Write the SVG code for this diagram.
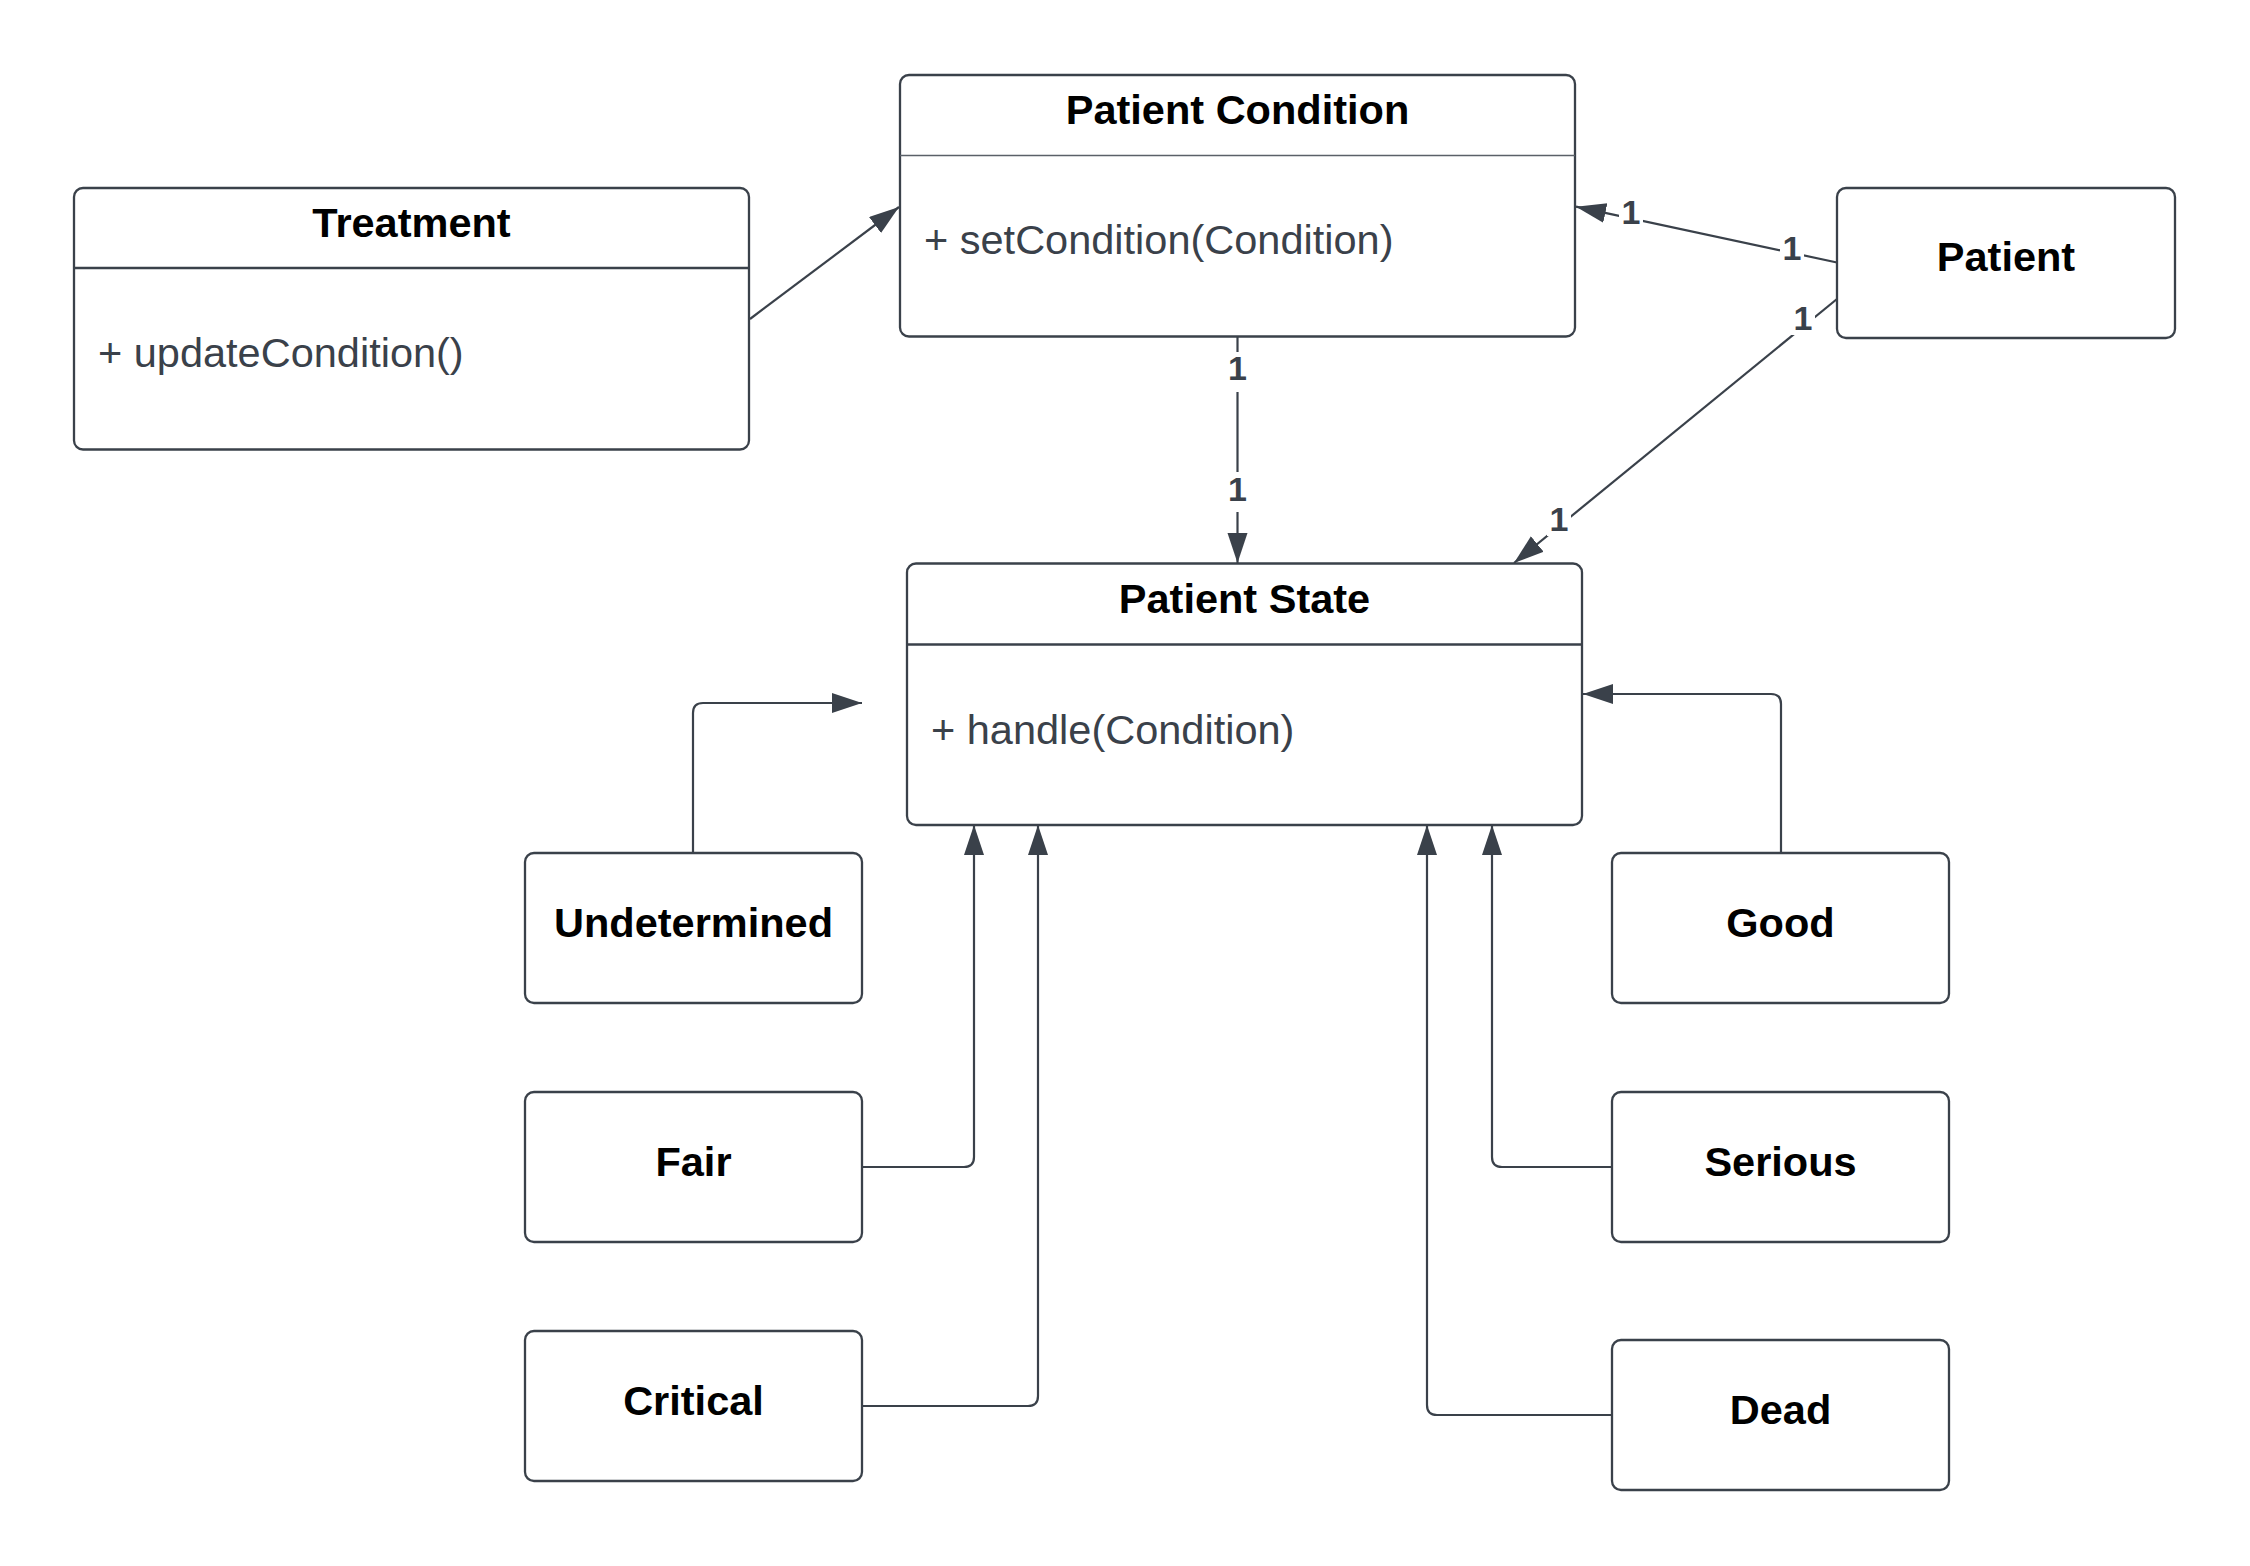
<svg xmlns="http://www.w3.org/2000/svg" width="2250" height="1566" viewBox="0 0 2250 1566">
<style>
.box{fill:#ffffff;stroke:#3a414a;stroke-width:2.3}
.div{stroke:#3a414a;stroke-width:2.3}
.divl{stroke:#5a6068;stroke-width:1.3}
.title{font-family:"Liberation Sans",Arial,sans-serif;font-size:41.5px;font-weight:bold;fill:#000000;text-anchor:middle}
.method{font-family:"Liberation Sans",Arial,sans-serif;font-size:41.5px;fill:#3a414a}
.conn{fill:none;stroke:#3a414a;stroke-width:2.2}
.lbl{font-family:"Liberation Sans",Arial,sans-serif;font-size:34px;font-weight:bold;fill:#3a414a;text-anchor:middle}
.lblbg{fill:#ffffff}
</style>
<defs>
<marker id="arr" markerUnits="userSpaceOnUse" markerWidth="32" markerHeight="22" refX="30" refY="10" orient="auto">
<path d="M0,0 L30,10 L0,20 Z" fill="#3a414a"/>
</marker>
</defs>
<rect width="2250" height="1566" fill="#ffffff"/>

<g id="connectors">
<path class="conn" d="M750,319 L899,207" marker-end="url(#arr)"/>
<path class="conn" d="M1837,262.5 L1576,206.7" marker-end="url(#arr)"/>
<path class="conn" d="M1837,299 L1514,563" marker-end="url(#arr)"/>
<path class="conn" d="M1237.5,336.5 V563" marker-end="url(#arr)"/>
<path class="conn" d="M693,853 V713 Q693,703 703,703 H862" marker-end="url(#arr)"/>
<path class="conn" d="M1781,853 V704 Q1781,694 1771,694 H1583" marker-end="url(#arr)"/>
<path class="conn" d="M862,1167 H964 Q974,1167 974,1157 V825" marker-end="url(#arr)"/>
<path class="conn" d="M862,1406 H1028 Q1038,1406 1038,1396 V825" marker-end="url(#arr)"/>
<path class="conn" d="M1612,1167 H1502 Q1492,1167 1492,1157 V825" marker-end="url(#arr)"/>
<path class="conn" d="M1612,1415 H1437 Q1427,1415 1427,1405 V825" marker-end="url(#arr)"/>
<g id="labels">
<rect class="lblbg" x="1619" y="195" width="24" height="34"/>
<text class="lbl" x="1631" y="224">1</text>
<rect class="lblbg" x="1780" y="231" width="24" height="34"/>
<text class="lbl" x="1792" y="260">1</text>
<rect class="lblbg" x="1791" y="301" width="24" height="34"/>
<text class="lbl" x="1803" y="330">1</text>
<rect class="lblbg" x="1547" y="502" width="24" height="34"/>
<text class="lbl" x="1559" y="531">1</text>
<rect class="lblbg" x="1225" y="352" width="25" height="40"/>
<text class="lbl" x="1237.5" y="380">1</text>
<rect class="lblbg" x="1225" y="472" width="25" height="40"/>
<text class="lbl" x="1237.5" y="501">1</text>
</g>
</g>

<g id="treatment">
<rect class="box" x="74" y="188" width="675" height="261.5" rx="9"/>
<line class="div" x1="74" y1="268" x2="749" y2="268"/>
<text class="title" x="411.5" y="237">Treatment</text>
<text class="method" x="98" y="366.5">+ updateCondition()</text>
</g>

<g id="patient-condition">
<rect class="box" x="900" y="75" width="675" height="261.5" rx="9"/>
<line class="divl" x1="900" y1="155.5" x2="1575" y2="155.5"/>
<text class="title" x="1237.5" y="124">Patient Condition</text>
<text class="method" x="924" y="254">+ setCondition(Condition)</text>
</g>

<g id="patient">
<rect class="box" x="1837" y="188" width="338" height="150" rx="9"/>
<text class="title" x="2006" y="271">Patient</text>
</g>

<g id="patient-state">
<rect class="box" x="907" y="563.5" width="675" height="261.5" rx="9"/>
<line class="div" x1="907" y1="644.5" x2="1582" y2="644.5"/>
<text class="title" x="1244.5" y="612.5">Patient State</text>
<text class="method" x="931" y="744">+ handle(Condition)</text>
</g>

<g id="undetermined">
<rect class="box" x="525" y="853" width="337" height="150" rx="9"/>
<text class="title" x="693.5" y="937">Undetermined</text>
</g>

<g id="fair">
<rect class="box" x="525" y="1092" width="337" height="150" rx="9"/>
<text class="title" x="693.5" y="1176">Fair</text>
</g>

<g id="critical">
<rect class="box" x="525" y="1331" width="337" height="150" rx="9"/>
<text class="title" x="693.5" y="1415">Critical</text>
</g>

<g id="good">
<rect class="box" x="1612" y="853" width="337" height="150" rx="9"/>
<text class="title" x="1780.5" y="937">Good</text>
</g>

<g id="serious">
<rect class="box" x="1612" y="1092" width="337" height="150" rx="9"/>
<text class="title" x="1780.5" y="1176">Serious</text>
</g>

<g id="dead">
<rect class="box" x="1612" y="1340" width="337" height="150" rx="9"/>
<text class="title" x="1780.5" y="1424">Dead</text>
</g>
</svg>
